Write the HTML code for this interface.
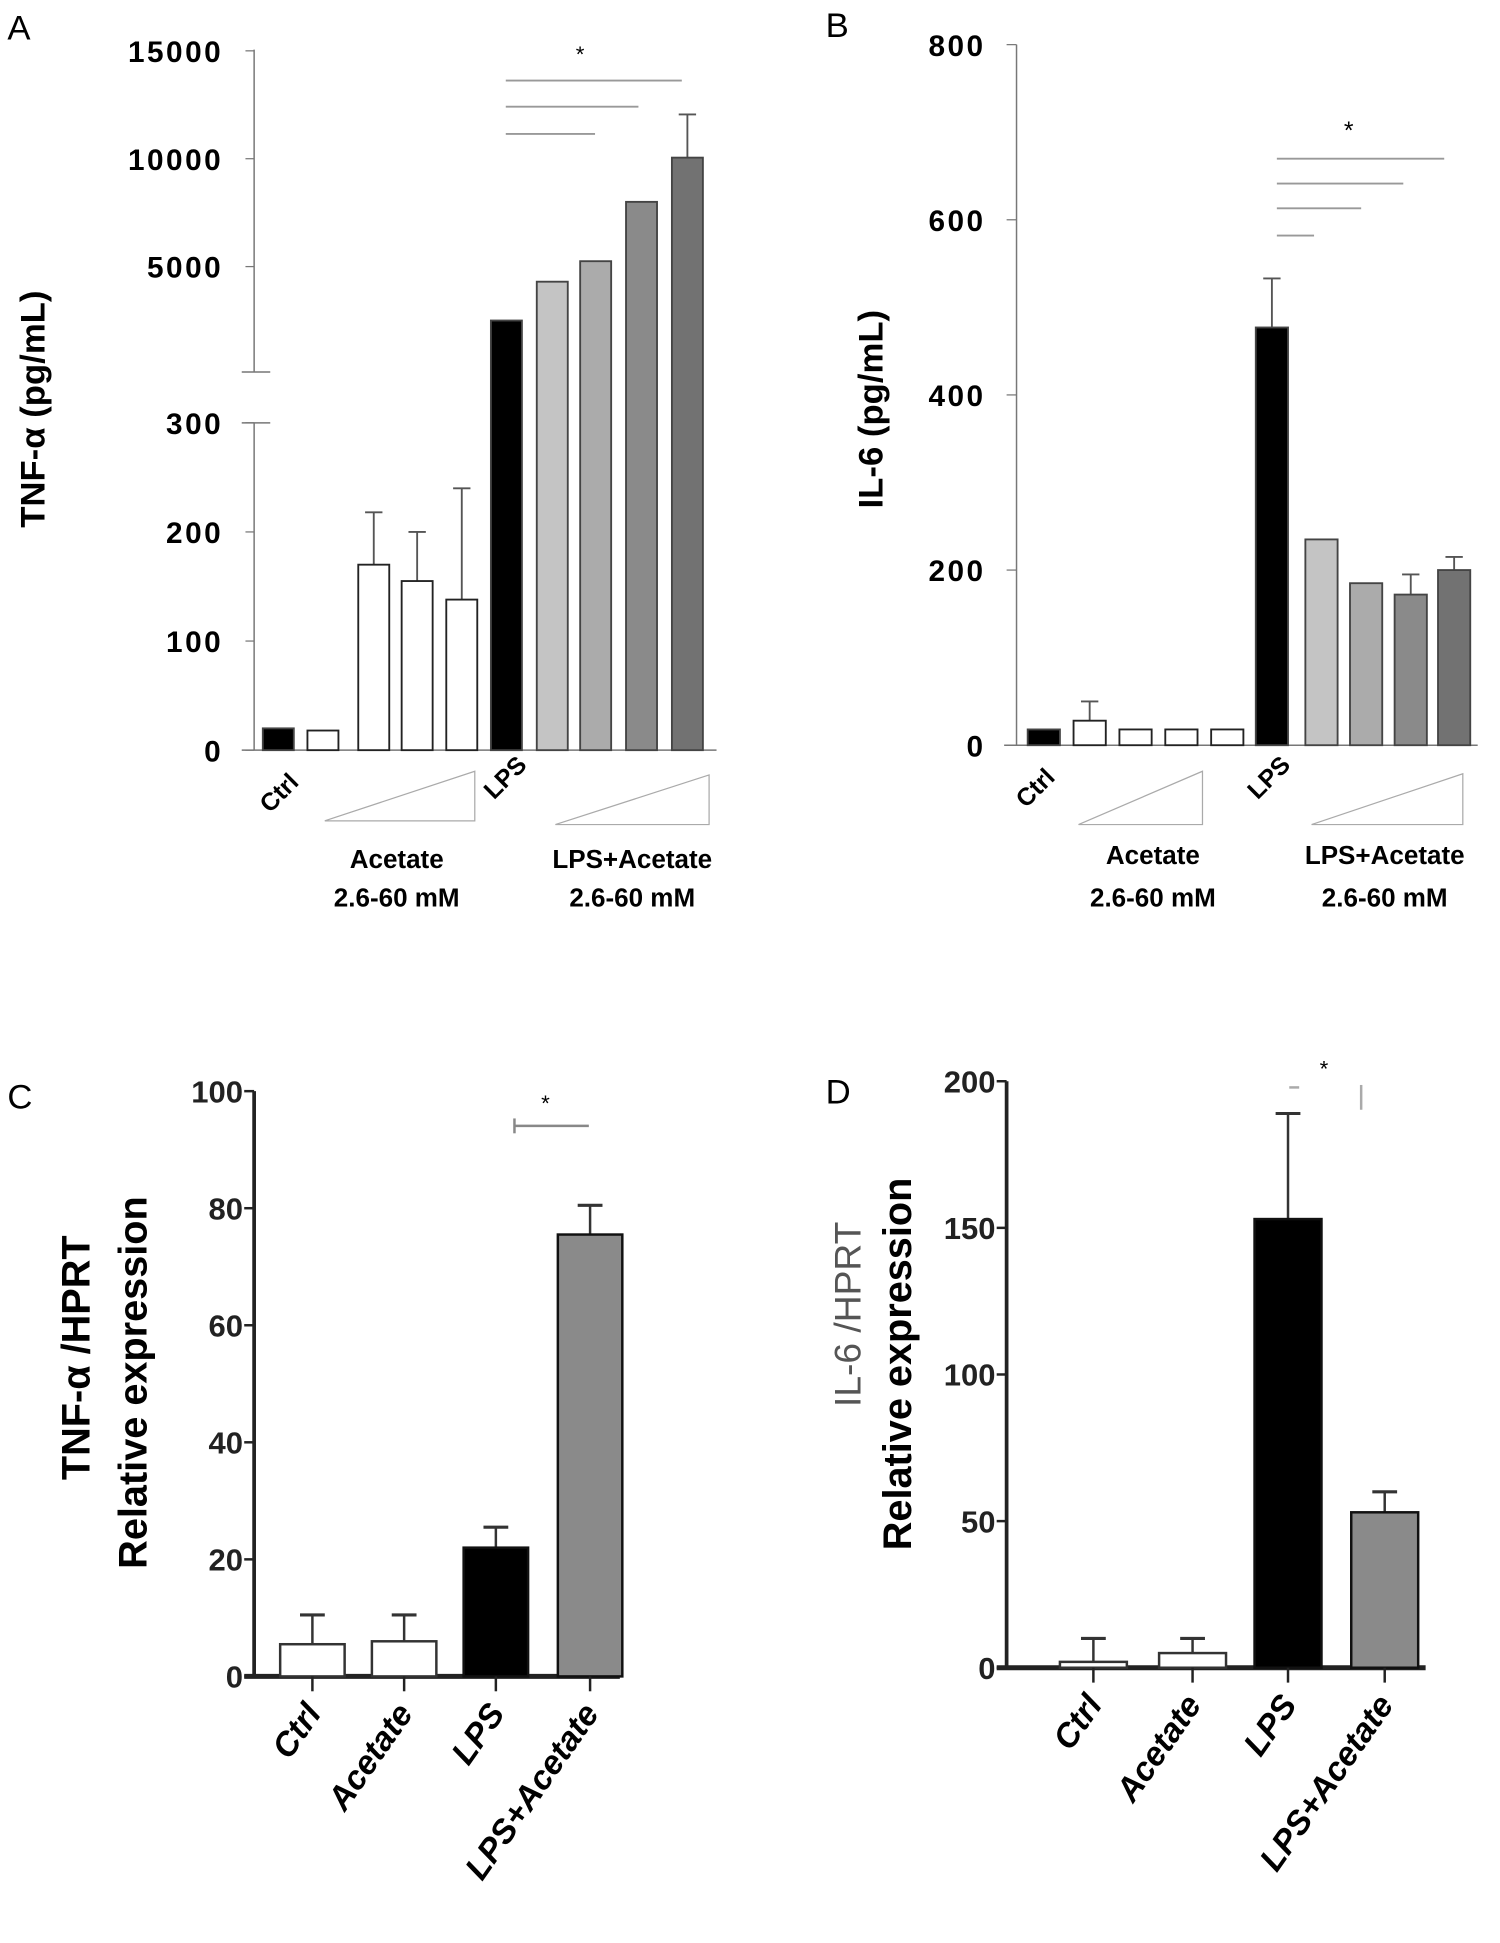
<!DOCTYPE html>
<html><head><meta charset="utf-8"><style>
html,body{margin:0;padding:0;background:#fff;}
svg{display:block;}
text{font-family:"Liberation Sans",Arial,sans-serif;}
</style></head><body>
<svg id="fig" width="1500" height="1943" viewBox="0 0 1210 1567" preserveAspectRatio="none" xmlns="http://www.w3.org/2000/svg">
<g id="gA"></g>
<g id="gB"></g>
<g id="gC"></g>
<g id="gD"></g>
</svg>
<script>
// Panel A data
const aValues = [20, 18, 170, 155, 138, 2500, 4300, 5250, 8000, 10050];
const aErrors = [0, 0, 48, 45, 102, 0, 0, 0, 0, 2000];
const aUpper = [false, false, false, false, false, true, true, true, true, true];
const aLowTicks = [0, 100, 200, 300];
const aHighTicks = [5000, 10000, 15000];
// Panel B data
const bValues = [18, 28, 18, 18, 18, 477, 235, 185, 172, 200];
const bErrors = [0, 22, 0, 0, 0, 56, 0, 0, 23, 15];
const bTicks = [0, 200, 400, 600, 800];
// Panel C data
const cCategories = ["Ctrl", "Acetate", "LPS", "LPS+Acetate"];
const cValues = [5.5, 6, 22, 75.5];
const cErrors = [5, 4.5, 3.5, 5];
const cTicks = [0, 20, 40, 60, 80, 100];
// Panel D data
const dCategories = ["Ctrl", "Acetate", "LPS", "LPS+Acetate"];
const dValues = [2, 5, 153, 53];
const dErrors = [8, 5, 36, 7];
const dTicks = [0, 50, 100, 150, 200];

const NS = "http://www.w3.org/2000/svg";
function mk(parent, tag, attrs, txt) {
  const e = document.createElementNS(NS, tag);
  for (const k in attrs) e.setAttribute(k, attrs[k]);
  if (txt !== undefined) e.textContent = txt;
  parent.appendChild(e);
  return e;
}
const gA = document.getElementById('gA'), gB = document.getElementById('gB'),
      gC = document.getElementById('gC'), gD = document.getElementById('gD');

const fillsAB = ["#000", "#fff", "#fff", "#fff", "#fff", "#000", "#c4c4c4", "#ababab", "#8a8a8a", "#727272"];
const barL = [212, 248, 289, 324, 360, 396, 433, 468, 505, 542];
const barLB = [829, 866, 903, 940, 977, 1013, 1053, 1089, 1125, 1160];

// ---------- Panel A ----------
const yLowA = v => 605 - v * (605 - 341) / 300;
const yHighA = v => 302 - v * 87 / 5000;
let e;
e = mk(gA, 'text', {x: 6, y: 32, 'font-size': 28}, 'A');
 
mk(gA, 'line', {x1: 205, y1: 605, x2: 205, y2: 341, stroke: '#777', 'stroke-width': 1.2});
mk(gA, 'line', {x1: 205, y1: 300, x2: 205, y2: 40, stroke: '#777', 'stroke-width': 1.2});
mk(gA, 'line', {x1: 195, y1: 300, x2: 218, y2: 300, stroke: '#777', 'stroke-width': 1.2});
mk(gA, 'line', {x1: 195, y1: 341, x2: 218, y2: 341, stroke: '#777', 'stroke-width': 1.2});
mk(gA, 'line', {x1: 195, y1: 605, x2: 578, y2: 605, stroke: '#777', 'stroke-width': 1.2});
aLowTicks.forEach(t => {
  const y = yLowA(t);
  mk(gA, 'line', {x1: 198, y1: y, x2: 205, y2: y, stroke: '#777'});
  e = mk(gA, 'text', {x: 180, y: y + 9, 'font-size': 24, 'font-weight': 'bold', 'text-anchor': 'end', 'letter-spacing': 2}, String(t));
   
});
aHighTicks.forEach(t => {
  const y = yHighA(t);
  mk(gA, 'line', {x1: 198, y1: y, x2: 205, y2: y, stroke: '#777'});
  e = mk(gA, 'text', {x: 180, y: y + 9, 'font-size': 24, 'font-weight': 'bold', 'text-anchor': 'end', 'letter-spacing': 2}, String(t));
   
});
aValues.forEach((v, i) => {
  const yf = aUpper[i] ? yHighA : yLowA;
  const top = yf(v), x = barL[i], w = 25, cx = x + w / 2;
  if (aErrors[i] > 0) {
    const ye = yf(v + aErrors[i]);
    mk(gA, 'line', {x1: cx, y1: top, x2: cx, y2: ye, stroke: '#555', 'stroke-width': 1.5});
    mk(gA, 'line', {x1: cx - 7, y1: ye, x2: cx + 7, y2: ye, stroke: '#555', 'stroke-width': 1.5});
  }
  e = mk(gA, 'rect', {x: x, y: top, width: w, height: 605 - top, fill: fillsAB[i], stroke: fillsAB[i] === '#fff' ? '#222' : '#444', 'stroke-width': 1.5});
   
});
e = mk(gA, 'text', {x: 468, y: 50, 'font-size': 18, 'text-anchor': 'middle'}, '*');
 
[[65, 550], [86, 515], [108, 480]].forEach(l => mk(gA, 'line', {x1: 408, y1: l[0], x2: l[1], y2: l[0], stroke: '#999', 'stroke-width': 1.5}));
e = mk(gA, 'text', {x: 0, y: 0, 'font-size': 28, 'font-weight': 'bold', 'text-anchor': 'middle', transform: 'translate(36,330) rotate(-90)'}, 'TNF-α  (pg/mL)');
 
e = mk(gA, 'text', {x: 0, y: 0, 'font-size': 20, 'font-weight': 'bold', 'text-anchor': 'end', transform: 'translate(242,632) rotate(-45)'}, 'Ctrl');
 
e = mk(gA, 'text', {x: 0, y: 0, 'font-size': 20, 'font-weight': 'bold', 'text-anchor': 'end', transform: 'translate(426,618) rotate(-45)'}, 'LPS');
 
mk(gA, 'polygon', {points: '262,662 383,622 383,662', fill: 'none', stroke: '#aaa'});
mk(gA, 'polygon', {points: '448,665 572,625 572,665', fill: 'none', stroke: '#aaa'});
[['Acetate', 320, 700], ['2.6-60 mM', 320, 731], ['LPS+Acetate', 510, 700], ['2.6-60 mM', 510, 731]].forEach(t => {
  e = mk(gA, 'text', {x: t[1], y: t[2], 'font-size': 21, 'font-weight': 'bold', 'text-anchor': 'middle'}, t[0]);
   
});

// ---------- Panel B ----------
const yB = v => 601 - v * (601 - 36) / 800;
e = mk(gB, 'text', {x: 666, y: 30, 'font-size': 28}, 'B');
 
mk(gB, 'line', {x1: 820, y1: 601, x2: 820, y2: 36, stroke: '#777', 'stroke-width': 1.2});
mk(gB, 'line', {x1: 810, y1: 601, x2: 1192, y2: 601, stroke: '#777', 'stroke-width': 1.2});
bTicks.forEach(t => {
  const y = yB(t);
  mk(gB, 'line', {x1: 812, y1: y, x2: 820, y2: y, stroke: '#777'});
  e = mk(gB, 'text', {x: 795, y: y + 9, 'font-size': 24, 'font-weight': 'bold', 'text-anchor': 'end', 'letter-spacing': 2}, String(t));
   
});
bValues.forEach((v, i) => {
  const top = yB(v), x = barLB[i], w = 26, cx = x + w / 2;
  if (bErrors[i] > 0) {
    const ye = yB(v + bErrors[i]);
    mk(gB, 'line', {x1: cx, y1: top, x2: cx, y2: ye, stroke: '#555', 'stroke-width': 1.5});
    mk(gB, 'line', {x1: cx - 7, y1: ye, x2: cx + 7, y2: ye, stroke: '#555', 'stroke-width': 1.5});
  }
  e = mk(gB, 'rect', {x: x, y: top, width: w, height: 601 - top, fill: fillsAB[i], stroke: fillsAB[i] === '#fff' ? '#222' : '#444', 'stroke-width': 1.5});
   
});
e = mk(gB, 'text', {x: 1088, y: 112, 'font-size': 20, 'text-anchor': 'middle'}, '*');
 
[[128, 1165], [148, 1132], [168, 1098], [190, 1060]].forEach(l => mk(gB, 'line', {x1: 1030, y1: l[0], x2: l[1], y2: l[0], stroke: '#999', 'stroke-width': 1.5}));
e = mk(gB, 'text', {x: 0, y: 0, 'font-size': 28, 'font-weight': 'bold', 'text-anchor': 'middle', transform: 'translate(712,330) rotate(-90)'}, 'IL-6 (pg/mL)');
 
e = mk(gB, 'text', {x: 0, y: 0, 'font-size': 20, 'font-weight': 'bold', 'text-anchor': 'end', transform: 'translate(852,628) rotate(-45)'}, 'Ctrl');
 
e = mk(gB, 'text', {x: 0, y: 0, 'font-size': 20, 'font-weight': 'bold', 'text-anchor': 'end', transform: 'translate(1042,618) rotate(-45)'}, 'LPS');
 
mk(gB, 'polygon', {points: '870,665 970,622 970,665', fill: 'none', stroke: '#aaa'});
mk(gB, 'polygon', {points: '1058,665 1180,624 1180,665', fill: 'none', stroke: '#aaa'});
[['Acetate', 930, 697], ['2.6-60 mM', 930, 731], ['LPS+Acetate', 1117, 697], ['2.6-60 mM', 1117, 731]].forEach(t => {
  e = mk(gB, 'text', {x: t[1], y: t[2], 'font-size': 21, 'font-weight': 'bold', 'text-anchor': 'middle'}, t[0]);
   
});

// ---------- Panels C & D ----------
function panel(g, cats, vals, errs, ticks, o) {
  const y = v => o.y0 - v * (o.y0 - o.yTop) / ticks[ticks.length - 1];
  mk(g, 'line', {x1: o.ax, y1: o.y0, x2: o.ax, y2: o.yTop, stroke: '#222', 'stroke-width': 3});
  mk(g, 'line', {x1: o.ax - 8, y1: o.y0, x2: o.xEnd, y2: o.y0, stroke: '#222', 'stroke-width': 4});
  ticks.forEach(t => {
    const yy = y(t);
    mk(g, 'line', {x1: o.ax - 8, y1: yy, x2: o.ax, y2: yy, stroke: '#222', 'stroke-width': 2});
    const tl = mk(g, 'text', {x: o.ax - 9, y: yy + 9, 'font-size': 25, 'text-anchor': 'end', fill: '#222', 'font-weight': 'bold'}, String(t));
     
  });
  vals.forEach((v, i) => {
    const x = o.bars[i], w = o.bw, cx = x + w / 2, top = y(v), ye = y(v + errs[i]);
    mk(g, 'line', {x1: cx, y1: top, x2: cx, y2: ye, stroke: '#333', 'stroke-width': 2});
    mk(g, 'line', {x1: cx - 10, y1: ye, x2: cx + 10, y2: ye, stroke: '#333', 'stroke-width': 2.5});
    const r = mk(g, 'rect', {x: x, y: top, width: w, height: o.y0 - top, fill: o.fills[i], stroke: o.fills[i] === '#fff' ? '#333' : '#111', 'stroke-width': 2});
     
    mk(g, 'line', {x1: cx, y1: o.y0, x2: cx, y2: o.y0 + 12, stroke: '#222', 'stroke-width': 2});
    const lb = mk(g, 'text', {x: 0, y: 0, 'font-size': 27, 'font-weight': 'bold', 'font-style': 'italic', 'text-anchor': 'end', transform: 'translate(' + (cx + 8) + ',' + (o.y0 + 30) + ') rotate(-55)'}, cats[i]);
     
  });
}
e = mk(gC, 'text', {x: 6, y: 894, 'font-size': 28}, 'C');
 
panel(gC, cCategories, cValues, cErrors, cTicks, {ax: 205, y0: 1352, yTop: 880, xEnd: 500, bars: [226, 300, 374, 450], bw: 52, fills: ['#fff', '#fff', '#000', '#8a8a8a']});
e = mk(gC, 'text', {x: 440, y: 896, 'font-size': 18, 'text-anchor': 'middle'}, '*');
 
mk(gC, 'line', {x1: 415, y1: 908, x2: 475, y2: 908, stroke: '#888', 'stroke-width': 2});
mk(gC, 'line', {x1: 415, y1: 902, x2: 415, y2: 914, stroke: '#888', 'stroke-width': 2});
e = mk(gC, 'text', {x: 0, y: 0, 'font-size': 32, 'font-weight': 'bold', 'text-anchor': 'middle', transform: 'translate(72,1095) rotate(-90)'}, 'TNF-α /HPRT');
 
e = mk(gC, 'text', {x: 0, y: 0, 'font-size': 32, 'font-weight': 'bold', 'text-anchor': 'middle', transform: 'translate(118,1115) rotate(-90)'}, 'Relative expression');
 

e = mk(gD, 'text', {x: 666, y: 890, 'font-size': 28}, 'D');
 
panel(gD, dCategories, dValues, dErrors, dTicks, {ax: 812, y0: 1345, yTop: 872, xEnd: 1150, bars: [855, 935, 1012, 1090], bw: 54, fills: ['#fff', '#fff', '#000', '#8a8a8a']});
e = mk(gD, 'text', {x: 1068, y: 868, 'font-size': 18, 'text-anchor': 'middle'}, '*');
 
mk(gD, 'line', {x1: 1098, y1: 875, x2: 1098, y2: 895, stroke: '#aaa', 'stroke-width': 2});
mk(gD, 'line', {x1: 1040, y1: 877, x2: 1048, y2: 877, stroke: '#aaa', 'stroke-width': 2});
e = mk(gD, 'text', {x: 0, y: 0, 'font-size': 30, 'text-anchor': 'middle', fill: '#555', transform: 'translate(694,1060) rotate(-90)'}, 'IL-6 /HPRT');
 
e = mk(gD, 'text', {x: 0, y: 0, 'font-size': 32, 'font-weight': 'bold', 'text-anchor': 'middle', transform: 'translate(735,1100) rotate(-90)'}, 'Relative expression');
 
</script>
</body></html>
